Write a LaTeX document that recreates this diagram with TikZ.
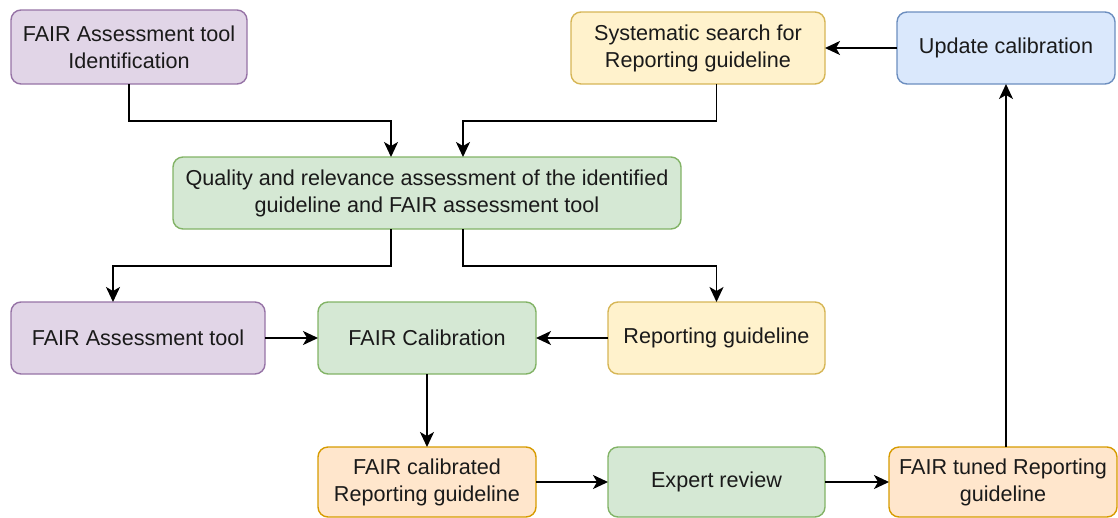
\documentclass[tikz,border=0pt]{standalone}
\usepackage{fontspec}
\setmainfont{Liberation Sans}
\usepackage{xcolor}
\usetikzlibrary{positioning, arrows.meta}

\definecolor{purpfill}{HTML}{E1D5E7}
\definecolor{purpline}{HTML}{9673A6}
\definecolor{yelfill}{HTML}{FFF2CC}
\definecolor{yelline}{HTML}{D6B656}
\definecolor{bluefill}{HTML}{DAE8FC}
\definecolor{blueline}{HTML}{6C8EBF}
\definecolor{grnfill}{HTML}{D5E8D4}
\definecolor{grnline}{HTML}{82B366}
\definecolor{orgfill}{HTML}{FFE6CC}
\definecolor{orgline}{HTML}{D79B00}
\definecolor{txt}{HTML}{1A1A1A}

\begin{document}
\begin{tikzpicture}[
      x=1pt, y=1pt,
      box/.style    = {rounded corners=10pt, line width=1.4pt, outer sep=0pt,
                       minimum height=72pt, align=center, text=txt,
                       font=\fontsize{21.6}{27}\selectfont},
      toolbox/.style = {box, draw=purpline, fill=purpfill},
      guidebox/.style = {box, draw=yelline, fill=yelfill},
      updbox/.style  = {box, draw=blueline, fill=bluefill},
      procbox/.style = {box, draw=grnline, fill=grnfill},
      outbox/.style  = {box, draw=orgline, fill=orgfill, minimum height=70pt},
      flow/.style    = {line width=1.7pt, -{Stealth[length=15pt, width=14pt, inset=4pt]}},
  ]
  \useasboundingbox (0,0) rectangle (1118,-517);

  % --- Inputs: tool identification and guideline search ---
  \node[toolbox, minimum width=236pt, minimum height=74pt] (ident) at (129,-47)
        {FAIR Assessment tool\\Identification};
  \node[guidebox, minimum width=254pt] (syst) at (698,-48)
        {Systematic search for\\Reporting guideline};
  \node[updbox, minimum width=218pt, right=72pt of syst] (upd) {Update calibration};

  % --- Screening ---
  \node[procbox, minimum width=508pt] (quality) at (427,-193)
        {Quality and relevance assessment of the identified\\guideline and FAIR assessment tool};

  % --- Calibration row ---
  \node[toolbox, minimum width=254pt] (tool) at (138,-338) {FAIR Assessment tool};
  \node[procbox, minimum width=218pt, right=53pt of tool] (calib) {FAIR Calibration};
  \node[guidebox, minimum width=217pt, right=72pt of calib] (repg) {Reporting guideline};

  % --- Outputs ---
  \node[outbox, minimum width=218pt, below=73pt of calib] (calrep)
        {FAIR calibrated\\Reporting guideline};
  \node[procbox, minimum width=217pt, minimum height=70pt, right=72pt of calrep] (expert)
        {Expert review};
  \node[outbox, minimum width=228pt, right=64pt of expert] (tuned)
        {FAIR tuned Reporting\\guideline};

  % --- Arrows ---
  \draw[flow] (ident.south) -- ++(0,-37) -| ([xshift=-36pt]quality.north);
  \draw[flow] (syst.south -| repg.north) -- ++(0,-37) -| ([xshift=36pt]quality.north);
  \draw[flow] ([xshift=-36pt]quality.south) -- ++(0,-37) -| ([xshift=-25pt]tool.north);
  \draw[flow] ([xshift=36pt]quality.south) -- ++(0,-37) -| (repg.north);
  \draw[flow] (tool.east) -- (calib.west);
  \draw[flow] (repg.west) -- (calib.east);
  \draw[flow] (calib.south) -- (calrep.north);
  \draw[flow] (calrep.east) -- (expert.west);
  \draw[flow] (expert.east) -- (tuned.west);
  \draw[flow] (upd.south |- tuned.north) -- (upd.south);   % loop back
  \draw[flow] (upd.west) -- (syst.east);

\end{tikzpicture}
\end{document}
